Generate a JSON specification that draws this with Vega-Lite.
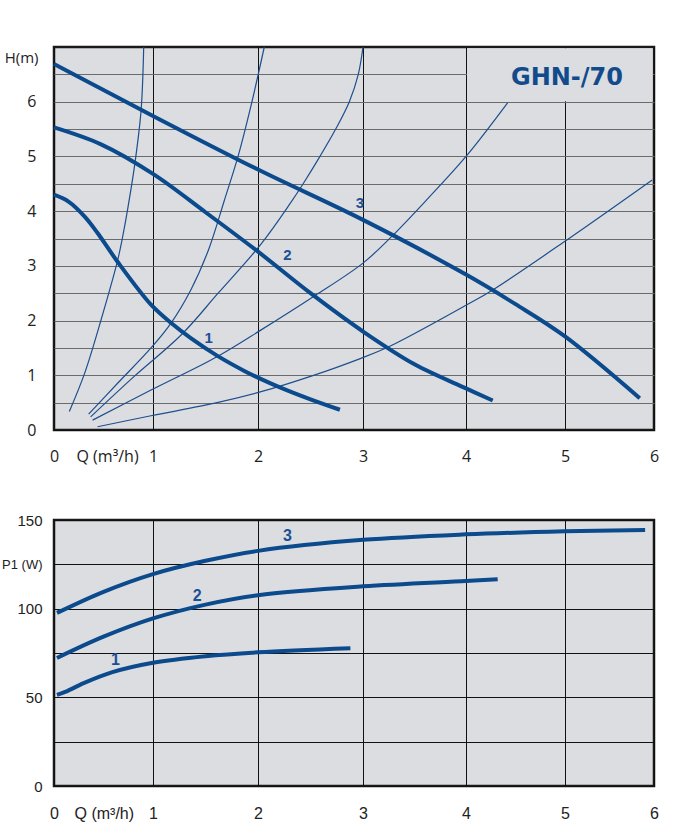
{
  "$schema": "https://vega.github.io/schema/vega-lite/v6.json",
  "padding": {"left": 0, "top": 43, "right": 0, "bottom": 0},
  "background": "white",
  "bounds": "flush",
  "spacing": 90,
  "datasets": {
    "headCurves": [
      {"speed": "1", "q": 0.0, "h": 4.30}, {"speed": "1", "q": 0.15, "h": 4.17}, {"speed": "1", "q": 0.31, "h": 3.90},
      {"speed": "1", "q": 0.44, "h": 3.60}, {"speed": "1", "q": 0.64, "h": 3.08}, {"speed": "1", "q": 0.98, "h": 2.29},
      {"speed": "1", "q": 1.17, "h": 1.96}, {"speed": "1", "q": 1.36, "h": 1.68}, {"speed": "1", "q": 1.61, "h": 1.36},
      {"speed": "1", "q": 1.87, "h": 1.08}, {"speed": "1", "q": 2.03, "h": 0.93}, {"speed": "1", "q": 2.22, "h": 0.77},
      {"speed": "1", "q": 2.5, "h": 0.56}, {"speed": "1", "q": 2.78, "h": 0.37},
      {"speed": "2", "q": 0.0, "h": 5.53}, {"speed": "2", "q": 0.475, "h": 5.22}, {"speed": "2", "q": 1.0, "h": 4.68},
      {"speed": "2", "q": 1.5, "h": 3.98}, {"speed": "2", "q": 2.0, "h": 3.26}, {"speed": "2", "q": 2.5, "h": 2.5},
      {"speed": "2", "q": 3.0, "h": 1.80}, {"speed": "2", "q": 3.5, "h": 1.2}, {"speed": "2", "q": 4.0, "h": 0.76},
      {"speed": "2", "q": 4.27, "h": 0.54},
      {"speed": "3", "q": 0.0, "h": 6.69}, {"speed": "3", "q": 1.0, "h": 5.74}, {"speed": "3", "q": 2.0, "h": 4.76},
      {"speed": "3", "q": 3.0, "h": 3.84}, {"speed": "3", "q": 4.0, "h": 2.84}, {"speed": "3", "q": 4.5, "h": 2.3},
      {"speed": "3", "q": 5.0, "h": 1.71}, {"speed": "3", "q": 5.84, "h": 0.58}
    ],
    "systemCurves": [
      {"curve": "A", "q": 0.155, "h": 0.34}, {"curve": "A", "q": 0.31, "h": 1.04}, {"curve": "A", "q": 0.475, "h": 2.01},
      {"curve": "A", "q": 0.64, "h": 3.08}, {"curve": "A", "q": 0.69, "h": 3.5}, {"curve": "A", "q": 0.75, "h": 4.1},
      {"curve": "A", "q": 0.82, "h": 4.91}, {"curve": "A", "q": 0.88, "h": 5.85}, {"curve": "A", "q": 0.906, "h": 7.0},
      {"curve": "B", "q": 0.35, "h": 0.29}, {"curve": "B", "q": 0.64, "h": 0.85}, {"curve": "B", "q": 0.98, "h": 1.5},
      {"curve": "B", "q": 1.17, "h": 1.95}, {"curve": "B", "q": 1.36, "h": 2.56}, {"curve": "B", "q": 1.53, "h": 3.3},
      {"curve": "B", "q": 1.68, "h": 4.2}, {"curve": "B", "q": 1.81, "h": 5.0}, {"curve": "B", "q": 1.93, "h": 5.9},
      {"curve": "B", "q": 2.06, "h": 7.0},
      {"curve": "C", "q": 0.37, "h": 0.24}, {"curve": "C", "q": 0.81, "h": 0.98}, {"curve": "C", "q": 1.27, "h": 1.74},
      {"curve": "C", "q": 1.62, "h": 2.5}, {"curve": "C", "q": 2.03, "h": 3.4}, {"curve": "C", "q": 2.31, "h": 4.15},
      {"curve": "C", "q": 2.43, "h": 4.5}, {"curve": "C", "q": 2.59, "h": 5.0}, {"curve": "C", "q": 2.74, "h": 5.5},
      {"curve": "C", "q": 2.87, "h": 6.0}, {"curve": "C", "q": 2.955, "h": 6.5}, {"curve": "C", "q": 3.0, "h": 7.0},
      {"curve": "D", "q": 0.39, "h": 0.18}, {"curve": "D", "q": 0.98, "h": 0.73}, {"curve": "D", "q": 1.61, "h": 1.34},
      {"curve": "D", "q": 2.03, "h": 1.83}, {"curve": "D", "q": 2.53, "h": 2.44}, {"curve": "D", "q": 3.0, "h": 3.05},
      {"curve": "D", "q": 3.27, "h": 3.52}, {"curve": "D", "q": 3.62, "h": 4.21}, {"curve": "D", "q": 4.0, "h": 5.0},
      {"curve": "D", "q": 4.42, "h": 5.98},
      {"curve": "E", "q": 0.44, "h": 0.06}, {"curve": "E", "q": 0.98, "h": 0.26}, {"curve": "E", "q": 1.61, "h": 0.5},
      {"curve": "E", "q": 2.03, "h": 0.7}, {"curve": "E", "q": 2.5, "h": 0.98}, {"curve": "E", "q": 2.98, "h": 1.31},
      {"curve": "E", "q": 3.26, "h": 1.53}, {"curve": "E", "q": 4.0, "h": 2.28}, {"curve": "E", "q": 4.27, "h": 2.56},
      {"curve": "E", "q": 5.0, "h": 3.45}, {"curve": "E", "q": 5.98, "h": 4.57}
    ],
    "headLabels": [
      {"speed": "1", "q": 1.53, "h": 1.69},
      {"speed": "2", "q": 2.28, "h": 3.2},
      {"speed": "3", "q": 2.97, "h": 4.14}
    ],
    "titleGap": [
      {"q": 4.01, "q2": 5.985, "h": 6.01, "h2": 6.975}
    ],
    "powerCurves": [
      {"speed": "1", "q": 0.03, "h": 51.4}, {"speed": "1", "q": 0.12, "h": 53.2}, {"speed": "1", "q": 0.3, "h": 58.0},
      {"speed": "1", "q": 0.59, "h": 64.2}, {"speed": "1", "q": 1.0, "h": 69.5}, {"speed": "1", "q": 1.5, "h": 73.2},
      {"speed": "1", "q": 2.0, "h": 75.4}, {"speed": "1", "q": 2.88, "h": 77.7},
      {"speed": "2", "q": 0.03, "h": 72.2}, {"speed": "2", "q": 0.5, "h": 84.2}, {"speed": "2", "q": 1.0, "h": 94.5},
      {"speed": "2", "q": 1.5, "h": 102.3}, {"speed": "2", "q": 2.0, "h": 107.6}, {"speed": "2", "q": 3.0, "h": 112.6},
      {"speed": "2", "q": 4.0, "h": 115.6}, {"speed": "2", "q": 4.32, "h": 116.6},
      {"speed": "3", "q": 0.03, "h": 97.6}, {"speed": "3", "q": 0.5, "h": 109.5}, {"speed": "3", "q": 1.0, "h": 119.5},
      {"speed": "3", "q": 1.5, "h": 127.0}, {"speed": "3", "q": 2.0, "h": 132.6}, {"speed": "3", "q": 3.0, "h": 138.8},
      {"speed": "3", "q": 4.0, "h": 141.9}, {"speed": "3", "q": 5.0, "h": 143.6}, {"speed": "3", "q": 5.9, "h": 144.4}
    ],
    "powerLabels": [
      {"speed": "1", "q": 0.62, "h": 71.2},
      {"speed": "2", "q": 1.42, "h": 107.4},
      {"speed": "3", "q": 2.28, "h": 141.0}
    ]
  },
  "vconcat": [
    {
      "width": 600,
      "height": 383,
      "title": {
        "text": "GHN-/70",
        "orient": "top",
        "anchor": "end",
        "frame": "group",
        "baseline": "alphabetic",
        "offset": -64,
        "dx": -31,
        "font": "DejaVu Sans",
        "fontSize": 24,
        "fontWeight": "bold",
        "color": "#114b8b"
      },
      "encoding": {
        "x": {
          "field": "q",
          "type": "quantitative",
          "scale": {"domain": [0, 1, 2, 3, 4, 5, 6], "range": [0, 99, 204, 309, 412, 511, 600], "nice": false},
          "axis": {
            "values": [0, 1, 2, 3, 4, 5, 6],
            "format": "d",
            "title": "Q (m³/h)",
            "titleX": 22,
            "titleY": 26,
            "titleAlign": "left",
            "titleBaseline": "middle",
            "titleFont": "Open Sans",
            "titleFontSize": 16,
            "titleFontWeight": "normal",
            "titleColor": "#222",
            "labelFont": "Open Sans",
            "labelFontSize": 16,
            "labelColor": "#222",
            "labelBaseline": "middle",
            "labelPadding": 26,
            "labelFlush": false,
            "labelOverlap": false,
            "domain": false,
            "ticks": false,
            "tickSize": 0,
            "gridColor": "#111",
            "gridWidth": 1
          }
        },
        "y": {
          "field": "h",
          "type": "quantitative",
          "scale": {"domain": [0, 7], "nice": false},
          "axis": {
            "values": [0, 0.5, 1, 1.5, 2, 2.5, 3, 3.5, 4, 4.5, 5, 5.5, 6, 6.5],
            "labelExpr": "datum.value % 1 === 0 ? '' + datum.value : ''",
            "title": "H(m)",
            "titleAngle": 0,
            "titleAlign": "right",
            "titleBaseline": "middle",
            "titleX": -16,
            "titleY": 10,
            "titleFont": "Open Sans",
            "titleFontSize": 15,
            "titleFontWeight": "normal",
            "titleColor": "#222",
            "labelFont": "Open Sans",
            "labelFontSize": 16,
            "labelColor": "#222",
            "labelPadding": 18,
            "labelOverlap": false,
            "domain": false,
            "ticks": false,
            "tickSize": 0,
            "gridColor": {"condition": {"test": "datum.value === 0", "value": "#111"}, "value": "#6b6b6b"},
            "gridWidth": 1
          }
        }
      },
      "layer": [
        {
          "data": {"name": "titleGap"},
          "mark": {"type": "rect", "fill": "#dcdde1"},
          "encoding": {"x2": {"field": "q2"}, "y2": {"field": "h2"}}
        },
        {
          "data": {"name": "systemCurves"},
          "mark": {"type": "line", "interpolate": "catmull-rom", "stroke": "#1d4f8d", "strokeWidth": 1.2},
          "encoding": {"detail": {"field": "curve"}}
        },
        {
          "data": {"name": "headCurves"},
          "mark": {"type": "line", "interpolate": "catmull-rom", "stroke": "#0b4a8c", "strokeWidth": 4},
          "encoding": {"detail": {"field": "speed"}}
        },
        {
          "data": {"name": "headLabels"},
          "mark": {"type": "text", "font": "Liberation Sans", "fontSize": 15, "fontWeight": "bold", "fill": "#1b5193"},
          "encoding": {"text": {"field": "speed"}}
        }
      ]
    },
    {
      "width": 600,
      "height": 266,
      "encoding": {
        "x": {
          "field": "q",
          "type": "quantitative",
          "scale": {"domain": [0, 1, 2, 3, 4, 5, 6], "range": [0, 99, 204, 309, 412, 511, 600], "nice": false},
          "axis": {
            "values": [0, 1, 2, 3, 4, 5, 6],
            "format": "d",
            "title": "Q (m³/h)",
            "titleX": 20,
            "titleY": 27,
            "titleAlign": "left",
            "titleBaseline": "middle",
            "titleFont": "Liberation Sans",
            "titleFontSize": 16,
            "titleFontWeight": "normal",
            "titleColor": "#222",
            "labelFont": "Liberation Sans",
            "labelFontSize": 16,
            "labelColor": "#222",
            "labelBaseline": "middle",
            "labelPadding": 27,
            "labelFlush": false,
            "labelOverlap": false,
            "domain": false,
            "ticks": false,
            "tickSize": 0,
            "gridColor": "#111",
            "gridWidth": 1
          }
        },
        "y": {
          "field": "h",
          "type": "quantitative",
          "scale": {"domain": [0, 150], "nice": false},
          "axis": {
            "values": [0, 25, 50, 75, 100, 125, 150],
            "labelExpr": "datum.value % 50 === 0 ? '' + datum.value : ''",
            "title": "P1 (W)",
            "titleAngle": 0,
            "titleAlign": "right",
            "titleBaseline": "middle",
            "titleX": -12,
            "titleY": 44,
            "titleFont": "Liberation Sans",
            "titleFontSize": 13,
            "titleFontWeight": "normal",
            "titleColor": "#222",
            "labelFont": "Liberation Sans",
            "labelFontSize": 15,
            "labelColor": "#222",
            "labelPadding": 12,
            "labelOverlap": false,
            "domain": false,
            "ticks": false,
            "tickSize": 0,
            "gridColor": "#111",
            "gridWidth": 1
          }
        }
      },
      "layer": [
        {
          "data": {"name": "powerCurves"},
          "mark": {"type": "line", "interpolate": "catmull-rom", "stroke": "#0b4a8c", "strokeWidth": 4},
          "encoding": {"detail": {"field": "speed"}}
        },
        {
          "data": {"name": "powerLabels"},
          "mark": {"type": "text", "font": "Liberation Sans", "fontSize": 16, "fontWeight": "bold", "fill": "#1b5193"},
          "encoding": {"text": {"field": "speed"}}
        }
      ]
    }
  ],
  "config": {
    "view": {"fill": "#dcdde1", "stroke": "#1a1a1a", "strokeWidth": 2.5}
  }
}
